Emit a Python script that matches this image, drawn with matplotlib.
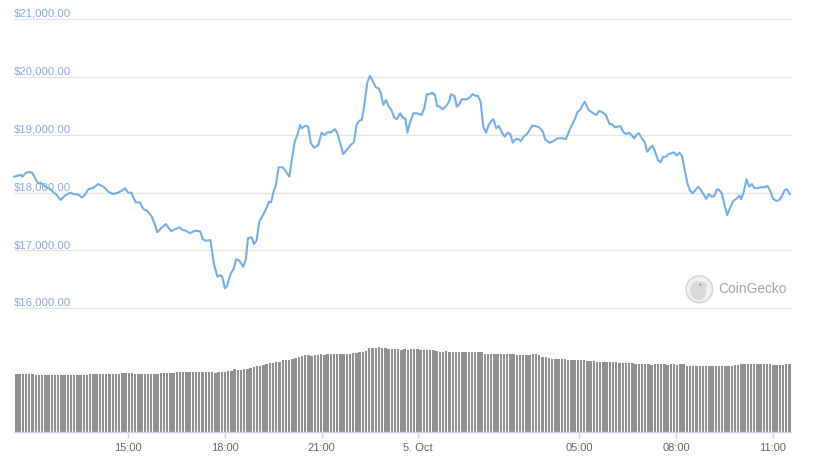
import numpy as np
import matplotlib
matplotlib.use('Agg')
import matplotlib.pyplot as plt
from matplotlib.patches import Circle, Ellipse
from matplotlib.transforms import ScaledTranslation

plt.rcParams['font.family'] = ['Liberation Sans', 'DejaVu Sans']

# ---------------- data ----------------
# minutes relative to 5 Oct 00:00
price_minutes = [
    -753, -745, -740, -737, -730, -723, -718, -713, -708, -703,
    -698, -692, -686, -680, -673, -666, -658, -648, -641, -633,
    -626, -621, -614, -605, -596, -586, -577, -568, -559, -550,
    -546, -540, -534, -531, -526, -518, -512, -505, -496, -490,
    -486, -479, -470, -465, -460, -453, -444, -439, -432, -425,
    -416, -406, -401, -395, -387, -380, -374, -369, -365, -360,
    -356, -349, -344, -339, -333, -326, -321, -317, -310, -306,
    -301, -296, -289, -282, -278, -274, -270, -265, -260, -252,
    -246, -240, -235, -230, -225, -220, -217, -210, -205, -200,
    -194, -186, -180, -175, -169, -163, -155, -151, -146, -140,
    -132, -126, -120, -115, -110, -105, -101, -95, -90, -84,
    -79, -74, -70, -65, -60, -55, -50, -45, -40, -34,
    -29, -24, -20, -16, -9, -3, 6, 11, 16, 22,
    26, 31, 35, 40, 45, 52, 57, 61, 67, 72,
    76, 81, 90, 96, 101, 106, 111, 116, 121, 126,
    131, 136, 140, 145, 150, 156, 161, 166, 171, 176,
    181, 186, 191, 196, 202, 208, 212, 218, 225, 232,
    236, 244, 250, 259, 267, 275, 281, 287, 292, 296,
    301, 306, 310, 317, 323, 331, 337, 343, 349, 356,
    361, 366, 376, 382, 387, 392, 397, 402, 407, 411,
    416, 422, 426, 431, 436, 441, 446, 451, 456, 461,
    466, 471, 476, 481, 486, 491, 496, 501, 506, 511,
    516, 521, 526, 531, 536, 541, 546, 551, 556, 560,
    565, 570, 575, 580, 586, 593, 598, 601, 606, 611,
    616, 621, 626, 632, 637, 644, 650, 655, 660, 666,
    672, 677, 682, 686, 692,
]

price_usd = [
    18277, 18294, 18311, 18277, 18346, 18358, 18336, 18249, 18163, 18173,
    18133, 18086, 18069, 18017, 17960, 17874, 17948, 18000, 17972, 17972,
    17913, 17960, 18059, 18086, 18150, 18104, 18017, 17977, 18000, 18047,
    18076, 18000, 18000, 17931, 17834, 17827, 17718, 17688, 17585, 17441,
    17315, 17384, 17458, 17394, 17337, 17367, 17401, 17355, 17342, 17298,
    17342, 17332, 17194, 17169, 17182, 16749, 16547, 16576, 16547, 16346,
    16386, 16606, 16675, 16848, 16823, 16720, 16848, 17211, 17228, 17112,
    17169, 17498, 17614, 17747, 17844, 17834, 18000, 18133, 18439, 18439,
    18363, 18277, 18595, 18882, 18998, 19171, 19114, 19159, 19142, 18855,
    18778, 18825, 19038, 18998, 19045, 19045, 19097, 19038, 18882, 18669,
    18751, 18825, 18872, 19171, 19245, 19258, 19488, 19903, 20024, 19920,
    19823, 19806, 19730, 19517, 19604, 19488, 19431, 19304, 19270, 19374,
    19304, 19275, 19038, 19201, 19374, 19374, 19344, 19460, 19702, 19707,
    19730, 19690, 19500, 19488, 19443, 19500, 19574, 19702, 19678, 19488,
    19529, 19616, 19616, 19650, 19707, 19678, 19673, 19574, 19142, 19038,
    19171, 19245, 19270, 19114, 19154, 19038, 18969, 19038, 19015, 18865,
    18924, 18929, 18894, 18969, 19010, 19097, 19159, 19154, 19131, 19055,
    18924, 18865, 18882, 18941, 18941, 18929, 19072, 19188, 19287, 19391,
    19431, 19517, 19574, 19431, 19391, 19344, 19418, 19391, 19344, 19188,
    19183, 19131, 19154, 19045, 19015, 19038, 18998, 18941, 19010, 19028,
    18941, 18865, 18709, 18768, 18813, 18709, 18566, 18526, 18623, 18623,
    18669, 18682, 18699, 18640, 18692, 18635, 18393, 18163, 18034, 17990,
    18047, 18104, 18047, 17972, 17891, 17977, 17931, 17943, 18059, 18047,
    17990, 17787, 17614, 17730, 17856, 17903, 17948, 17886, 18017, 18232,
    18104, 18150, 18076, 18076, 18093, 18093, 18116, 18034, 17903, 17856,
    17874, 17943, 18047, 18059, 17972,
]

# 24h volume, billions USD
volume_bn = [
    28.7, 28.9, 28.7, 28.9, 28.9, 28.7, 28.5, 28.35, 28.35, 28.35,
    28.35, 28.35, 28.35, 28.35, 28.35, 28.35, 28.35, 28.35, 28.35, 28.35,
    28.35, 28.35, 28.35, 28.85, 28.85, 28.85, 28.85, 28.85, 28.85, 28.85,
    28.85, 29.1, 29.1, 29.35, 29.35, 29.35, 29.35, 28.85, 28.85, 28.85,
    28.85, 28.85, 28.85, 28.85, 29.1, 29.35, 29.35, 29.35, 29.35, 29.35,
    29.85, 29.85, 29.85, 29.85, 29.85, 29.85, 29.85, 29.85, 29.85, 29.85,
    29.85, 29.85, 29.35, 29.85, 29.85, 30.1, 30.35, 30.6, 31.2, 31.0,
    30.9, 31.2, 31.5, 31.85, 32.3, 32.85, 33.1, 33.6, 34.0, 34.3,
    34.6, 34.85, 34.85, 35.7, 35.9, 35.9, 36.2, 36.8, 37.5, 37.9,
    38.35, 38.35, 38.0, 38.35, 38.5, 38.7, 38.5, 38.7, 38.85, 38.85,
    38.7, 38.85, 38.85, 38.7, 39.0, 39.2, 39.5, 39.85, 39.85, 40.35,
    41.85, 41.85, 41.85, 42.2, 41.85, 41.85, 41.5, 41.5, 41.2, 41.2,
    40.85, 41.2, 40.9, 41.2, 41.35, 41.2, 40.85, 40.85, 40.85, 40.85,
    40.85, 40.5, 40.0, 40.0, 40.35, 40.0, 40.0, 40.0, 39.85, 39.85,
    39.85, 39.85, 39.85, 39.85, 39.85, 39.85, 38.85, 38.85, 38.85, 38.85,
    38.85, 38.85, 38.85, 38.85, 38.85, 38.85, 38.5, 38.5, 38.5, 38.5,
    38.5, 38.85, 38.85, 38.2, 37.5, 37.5, 37.0, 36.35, 36.35, 36.35,
    36.35, 36.2, 35.7, 35.7, 35.7, 35.7, 35.9, 35.9, 35.35, 35.35,
    35.35, 34.85, 34.85, 34.85, 34.85, 34.85, 34.85, 34.85, 34.35, 34.35,
    34.35, 34.35, 34.35, 33.85, 33.85, 33.85, 33.85, 33.85, 33.6, 33.85,
    33.85, 33.85, 33.85, 33.6, 33.85, 33.85, 33.6, 33.85, 33.85, 32.85,
    32.85, 32.85, 32.85, 32.85, 32.85, 32.85, 32.85, 32.85, 33.1, 33.1,
    33.1, 32.85, 33.1, 33.1, 33.35, 33.6, 33.85, 33.85, 33.85, 33.85,
    33.85, 33.85, 33.85, 33.85, 33.85, 33.85, 33.35, 33.35, 33.35, 33.35,
    33.85, 33.85,
]
volume_first_minute = -748
volume_last_minute = 691

y_ticks = [16000, 17000, 18000, 19000, 20000, 21000]
x_tick_hours = [-9, -6, -3, 0, 5, 8, 11]
x_tick_labels = ['15:00', '18:00', '21:00', '5. Oct', '05:00', '08:00', '11:00']

# ---------------- style ----------------
LINE_C = '#72aee9'
GRID_C = '#e6e6e6'
YLAB_C = '#8aa7de'
AXIS_C = '#ccd6eb'
XLAB_C = '#666666'
BAR_C = '#909090'

W, H = 822, 468
fig = plt.figure(figsize=(W / 100, H / 100), dpi=100)


def fx(px):
    return px / W


def fy(py):
    return 1 - py / H


left_px, right_px = 14, 791
x_lo, x_hi = -12.543, 11.563  # hours

ax = fig.add_axes([fx(left_px), fy(308.3), fx(right_px) - fx(left_px), fy(19.3) - fy(308.3)])
axv = fig.add_axes([fx(left_px), fy(431.7), fx(right_px) - fx(left_px), fy(331.7) - fy(431.7)])

# price panel
for a in (ax, axv):
    for s in a.spines.values():
        s.set_visible(False)
    a.set_facecolor('none')

ax.set_xlim(x_lo, x_hi)
ax.set_ylim(y_ticks[0], y_ticks[-1])
ax.set_xticks([])
ax.set_yticks([])
for yt in y_ticks:
    ax.axhline(yt, color=GRID_C, lw=1.0, zorder=1, clip_on=False)
    ax.text(0, yt, f'${yt:,.2f}', transform=ax.get_yaxis_transform()
            + ScaledTranslation(0, 2.5 / 100, fig.dpi_scale_trans),
            ha='left', va='baseline', fontsize=8.2, color=YLAB_C, zorder=2)

hours = np.array(price_minutes) / 60.0
ax.plot(hours, price_usd, color=LINE_C, lw=1.5, solid_joinstyle='round',
        solid_capstyle='round', zorder=3, clip_on=False)

# volume panel
vol_hours = np.linspace(volume_first_minute, volume_last_minute, len(volume_bn)) / 60.0
step = (vol_hours[1] - vol_hours[0])
axv.bar(vol_hours, volume_bn, width=step * 0.74, color=BAR_C, linewidth=0, zorder=2)
axv.set_xlim(x_lo, x_hi)
axv.set_ylim(0, 50)
axv.set_yticks([])
axv.spines['bottom'].set_visible(True)
axv.spines['bottom'].set_color(AXIS_C)
axv.spines['bottom'].set_linewidth(1.0)
axv.set_xticks(x_tick_hours)
axv.set_xticklabels(x_tick_labels)
axv.tick_params(axis='x', length=4, width=1.0, color=AXIS_C, labelcolor=XLAB_C,
                labelsize=8, pad=4)

# CoinGecko watermark
cx, cy, r = 699.3 / 100, (H - 289.3) / 100, 13.3 / 100
fig.patches.append(Circle((cx, cy), r, transform=fig.dpi_scale_trans,
                          facecolor='#f2f2f2', edgecolor='#d6d6d6', lw=1.2, zorder=5))
fig.patches.append(Ellipse((cx - 0.01, cy - 0.015), 0.16, 0.19, angle=10,
                           transform=fig.dpi_scale_trans, facecolor='#d9d9d9',
                           edgecolor='none', zorder=6))
fig.patches.append(Ellipse((cx + 0.02, cy + 0.04), 0.11, 0.07,
                           transform=fig.dpi_scale_trans, facecolor='#d9d9d9',
                           edgecolor='none', zorder=6))
fig.patches.append(Circle((cx + 0.01, cy + 0.045), 0.012, transform=fig.dpi_scale_trans,
                          facecolor='#9a9a9a', edgecolor='none', zorder=7))
fig.text(fx(718.3), fy(289), 'CoinGecko', ha='left', va='center',
         fontsize=9.9, color='#a3a3a3')

fig.savefig('out.png', dpi=100)
